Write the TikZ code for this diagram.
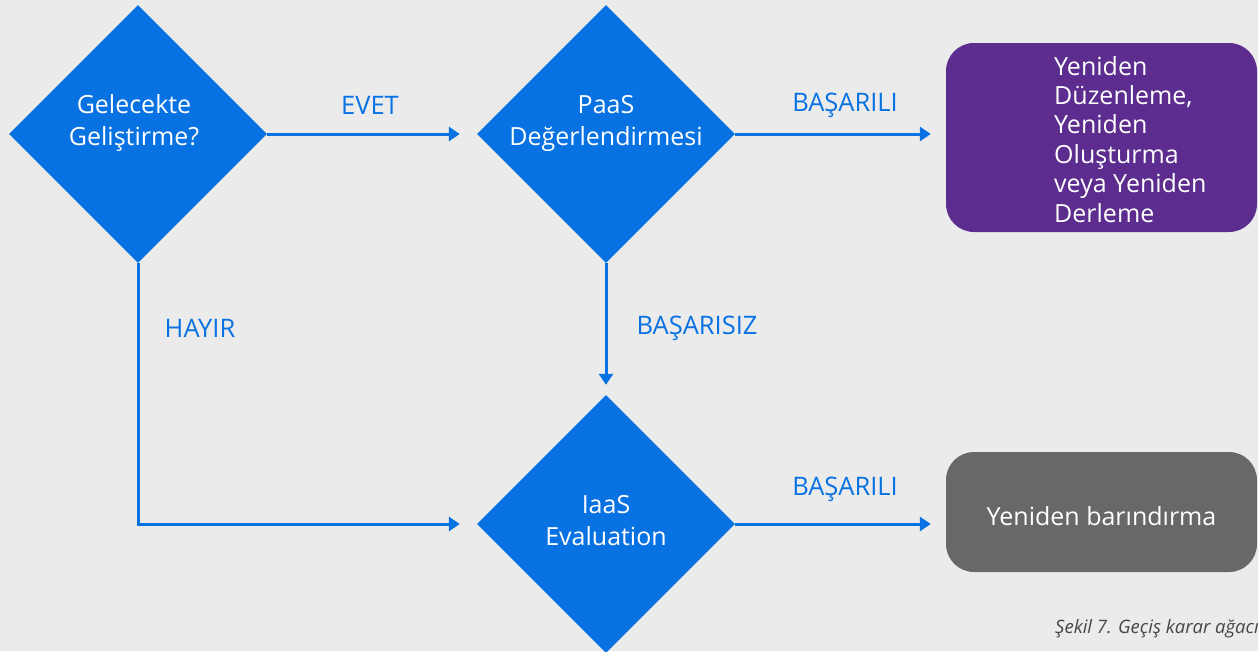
\documentclass[tikz,border=0pt]{standalone}
\usepackage{fontspec}
\setmainfont{Open Sans}
\usetikzlibrary{shapes.geometric,arrows.meta}
\definecolor{bg}{RGB}{235,235,235}
\definecolor{flowblue}{RGB}{8,114,226}
\definecolor{boxpurple}{RGB}{92,45,143}
\definecolor{boxgray}{RGB}{104,104,104}
\definecolor{capgray}{RGB}{70,70,70}
\tikzset{
  decision/.style={diamond, aspect=1, fill=flowblue, draw=none, inner sep=0pt,
    minimum width=258pt, minimum height=258pt},
  dtext/.style={text=white, align=center, font=\fontsize{25}{32}\selectfont},
  outcome/.style={rounded corners=28pt, draw=none, minimum width=311pt, inner sep=0pt},
  flow/.style={draw=flowblue, line width=3pt,
    -{Triangle[length=11pt,width=14pt]}},
  edgelabel/.style={text=flowblue, font=\fontsize{25.5}{28}\selectfont},
}
\begin{document}
\begin{tikzpicture}[x=1pt,y=-1pt]
  \useasboundingbox (0,0) rectangle (1258,651);
  \clip (0,0) rectangle (1258,651);
  \fill[bg] (0,0) rectangle (1258,651);

  % decisions
  \node[decision] (future) at (138,134) {};
  \node[decision] (paas)   at (606,134) {};
  \node[decision] (iaas)   at (606,524) {};
  \node[dtext] (futuretxt) at (134,123) {Gelecekte\\Geliştirme?};
  \node[dtext] (paastxt)   at (606,123) {PaaS\\Değerlendirmesi};
  \node[dtext] (iaastxt)   at (606,521) {IaaS\\Evaluation};

  % outcomes
  \node[outcome, fill=boxpurple, minimum height=189pt] (rearch) at (1101.5,137.5) {};
  \node[text=white, align=left, anchor=north west, inner sep=0pt,
        font=\fontsize{25}{29.4}\selectfont] (rearchtxt) at (1054,56)
    {Yeniden\\Düzenleme,\\Yeniden\\Oluşturma\\veya Yeniden\\Derleme};
  \node[outcome, fill=boxgray, minimum height=120pt] (rehost) at (1101.5,512) {};
  \node[text=white, font=\fontsize{25}{28}\selectfont] (rehosttxt) at (1101.5,516)
    {Yeniden barındırma};

  % connectors
  \draw[flow, shorten >=17pt] (future.east) -- (paas.west);
  \draw[flow, shorten >=15pt] (paas.east) -- (paas.east -| rearch.west);
  \draw[flow, shorten >=10pt] (paas.south) -- (iaas.north);
  \draw[flow, shorten >=17pt] (future.south) |- (iaas.west);
  \draw[flow, shorten >=15pt] (iaas.east) -- (iaas.east -| rehost.west);

  % connector labels
  \node[edgelabel] (lyes)   at (370,105) {EVET};
  \node[edgelabel] (lok1)   at (845,105) {BAŞARILI};
  \node[edgelabel] (lno)    at (200,328) {HAYIR};
  \node[edgelabel] (lfail)  at (697,328) {BAŞARISIZ};
  \node[edgelabel] (lok2)   at (845,489) {BAŞARILI};

  % caption
  \node[anchor=west, text=capgray, inner sep=0pt,
        font=\fontsize{18.5}{20}\selectfont\itshape] (caption) at (1055,629)
    {Şekil 7. Geçiş karar ağacı};
\end{tikzpicture}
\end{document}
